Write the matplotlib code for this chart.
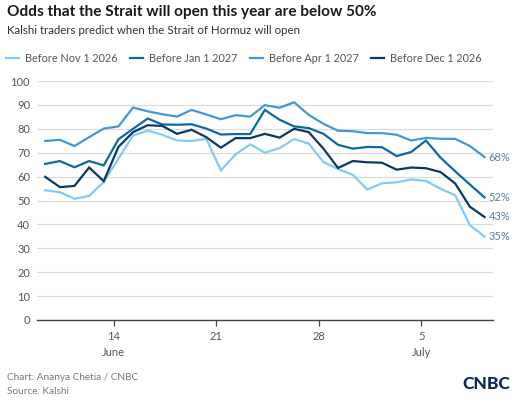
import matplotlib
matplotlib.use("Agg")
import matplotlib.pyplot as plt
import datetime as dt

plt.rcParams['font.family'] = ['Lato', 'DejaVu Sans']

start = dt.datetime(2026, 6, 9, 7, 40)
n_points = 31
dates = [start + dt.timedelta(days=i) for i in range(n_points)]

nov_2026 = [54.3, 53.5, 50.7, 51.9, 57.8, 67.5, 77.2, 79.2, 77.5, 75.1,
            74.9, 75.8, 62.6, 69.3, 73.5, 70.0, 71.9, 75.7, 73.8, 66.1,
            63.1, 60.8, 54.6, 57.2, 57.6, 58.8, 58.2, 54.9, 52.2, 39.7, 34.9]
jan_2027 = [65.3, 66.5, 63.9, 66.5, 64.7, 75.6, 80.0, 84.3, 81.8, 81.7,
            81.9, 80.1, 77.6, 77.8, 77.8, 87.9, 83.8, 81.0, 80.3, 77.9,
            73.3, 71.7, 72.4, 72.3, 68.6, 70.3, 75.1, 67.9, 62.2, 56.7, 51.3]
apr_2027 = [74.9, 75.4, 72.8, 76.5, 80.1, 81.0, 88.9, 87.3, 86.1, 85.1,
            87.9, 86.0, 84.0, 85.7, 85.1, 89.9, 88.8, 91.1, 85.8, 82.1,
            79.2, 79.0, 78.2, 78.2, 77.5, 75.1, 76.2, 75.8, 75.8, 72.8, 68.2]
dec_2026 = [59.9, 55.6, 56.1, 63.8, 58.1, 72.4, 78.6, 81.5, 81.2, 77.9,
            79.6, 76.5, 72.1, 76.1, 76.1, 77.9, 76.3, 80.0, 78.6, 71.7,
            63.6, 66.5, 66.0, 65.8, 62.9, 63.8, 63.5, 61.9, 57.1, 47.4, 43.1]

series_names = ["Before Nov 1 2026", "Before Jan 1 2027",
                "Before Apr 1 2027", "Before Dec 1 2026"]
series_values = [nov_2026, jan_2027, apr_2027, dec_2026]
series_colors = ["#80ccf7", "#0d6aa1", "#4498d6", "#0b3865"]
end_labels = ["35%", "52%", "68%", "43%"]

y_ticks = list(range(0, 101, 10))
x_tick_dates = [dt.datetime(2026, 6, 14), dt.datetime(2026, 6, 21),
                dt.datetime(2026, 6, 28), dt.datetime(2026, 7, 5)]
x_tick_labels = ["14\nJune", "21", "28", "5\nJuly"]

W, H = 515, 401
fig = plt.figure(figsize=(W / 100, H / 100), dpi=100)
ax = fig.add_axes([37 / W, 1 - 320 / H, (492.7 - 37) / W, (320 - 81) / H])

for name, vals, col in zip(series_names, series_values, series_colors):
    ax.plot(dates, vals, color=col, lw=1.6, solid_joinstyle='miter', label=name, zorder=3)

for vals, lab in zip(series_values, end_labels):
    ax.annotate(lab, xy=(dates[-1], vals[-1]), xytext=(3, 0), textcoords='offset points',
                va='center', ha='left', fontsize=8, color='#5c7fa5', annotation_clip=False)

ax.set_ylim(0, 100)
ax.set_xlim(dt.datetime(2026, 6, 8, 18, 15), dt.datetime(2026, 7, 9, 21, 5))
ax.set_yticks(y_ticks)
ax.set_yticklabels([str(v) for v in y_ticks])
ax.set_xticks(x_tick_dates)
ax.set_xticklabels(x_tick_labels, linespacing=1.5)
ax.grid(axis='y', color='#dcdcdc', lw=0.9, zorder=0)
for s in ['top', 'right', 'left']:
    ax.spines[s].set_visible(False)
ax.spines['bottom'].set_color('#444444')
ax.spines['bottom'].set_linewidth(1.0)
ax.tick_params(axis='y', length=0, pad=5, labelsize=8, labelcolor='#555555')
ax.tick_params(axis='x', length=4, width=0.9, color='#444444', pad=4,
               labelsize=8, labelcolor='#555555')

fig.text(7 / W, 1 - 12 / H, "Odds that the Strait will open this year are below 50%",
         fontsize=11.1, fontweight='bold', color='#1a1a1a', va='center', ha='left')
fig.text(7 / W, 1 - 30 / H, "Kalshi traders predict when the Strait of Hormuz will open",
         fontsize=8.3, color='#333333', va='center', ha='left')

leg = fig.legend(loc='center left', bbox_to_anchor=(2 / W, 1 - 58 / H), ncol=4,
                 frameon=False, fontsize=7.8, handlelength=1.2, handletextpad=0.5,
                 columnspacing=1.2, borderaxespad=0)
for t in leg.get_texts():
    t.set_color('#555555')
for h in leg.get_lines():
    h.set_linewidth(1.6)

fig.text(7 / W, 1 - 378 / H, "Chart: Ananya Chetia / CNBC", fontsize=7.2,
         color='#777777', va='center', ha='left')
fig.text(7 / W, 1 - 392 / H, "Source: Kalshi", fontsize=7.2,
         color='#777777', va='center', ha='left')

fig.text(510 / W, 1 - 384 / H, "CNBC", fontsize=12.5, fontweight='black',
         color='#0a2557', va='center', ha='right')

fig.savefig("out.png", dpi=100, facecolor='white')
